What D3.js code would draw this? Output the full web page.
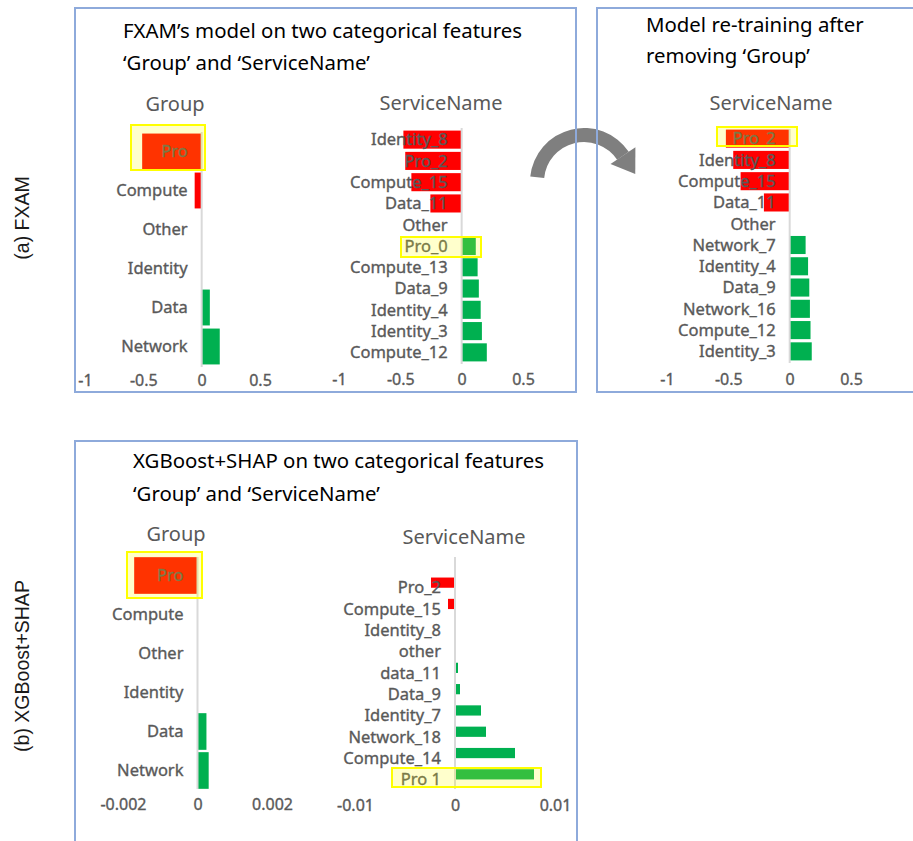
<!DOCTYPE html>
<html>
<head>
<meta charset="utf-8">
<script src="https://cdn.jsdelivr.net/npm/d3@7"></script>
<style>
  body { margin: 0; background: #fff; }
  svg { display: block; }
</style>
</head>
<body>
<svg id="fig" width="913" height="841"></svg>
<script>
// ---- data -------------------------------------------------------------
const groupCategories = ["Pro", "Compute", "Other", "Identity", "Data", "Network"];
const fxamGroupValues = [-0.51, -0.06, 0, 0, 0.07, 0.155];

const fxamServiceCategories = ["Identity_8", "Pro_2", "Compute_15", "Data_11", "Other", "Pro_0",
  "Compute_13", "Data_9", "Identity_4", "Identity_3", "Compute_12"];
const fxamServiceValues = [-0.475, -0.46, -0.41, -0.255, 0, 0.115, 0.13, 0.14, 0.155, 0.165, 0.205];

const retrainServiceCategories = ["Pro_2", "Identity_8", "Compute_15", "Data_11", "Other", "Network_7",
  "Identity_4", "Data_9", "Network_16", "Compute_12", "Identity_3"];
const retrainServiceValues = [-0.52, -0.46, -0.40, -0.21, 0, 0.13, 0.15, 0.16, 0.165, 0.17, 0.18];

const shapGroupValues = [-0.0017, 0, 0, 0, 0.00024, 0.0003];

const shapServiceCategories = ["Pro_2", "Compute_15", "Identity_8", "other", "data_11", "Data_9",
  "Identity_7", "Network_18", "Compute_14", "Pro 1"];
const shapServiceValues = [-0.0024, -0.0007, 0, 0, 0.0003, 0.0005, 0.0026, 0.0031, 0.006, 0.0079];

const fxamTicks = [-1, -0.5, 0, 0.5];
const shapGroupTicks = [-0.002, 0, 0.002];
const shapServiceTicks = [-0.01, 0, 0.01];

// ---- styling ----------------------------------------------------------
const NEG = "#ff0000", POS = "#00b050";
const LABEL = "#595959";
const FRAME = "#8eaadb";
const FONT = "'Noto Sans', 'DejaVu Sans', sans-serif";

const svg = d3.select("#fig");

// curved arrow between the two top panels (drawn first, frames sit above it)
(function drawArrow() {
  const cx = 584, cy = 182, r0 = 40, r1 = 54;
  const a0 = -1.47, a1 = 56 * Math.PI / 180;
  const g = svg.append("g").attr("transform", `translate(${cx},${cy})`);
  g.append("path")
    .attr("d", d3.arc()({ innerRadius: r0, outerRadius: r1, startAngle: a0, endAngle: a1 }))
    .attr("fill", "#7f7f7f");
  const rad = [Math.sin(a1), -Math.cos(a1)], tan = [Math.cos(a1), Math.sin(a1)];
  const pt = r => [rad[0] * r, rad[1] * r];
  const mid = (r0 + r1) / 2;
  const tip = [rad[0] * mid + tan[0] * 22, rad[1] * mid + tan[1] * 22];
  g.append("path")
    .attr("d", d3.line()([pt(r0 - 8), pt(r1 + 8), tip]) + "Z")
    .attr("fill", "#7f7f7f");
})();

// panel frames
const frames = [
  { x: 75, y: 8, w: 501, h: 384 },
  { x: 597, y: 8, w: 330, h: 384 },
  { x: 75, y: 441, w: 502, h: 420 }
];
svg.selectAll("rect.frame").data(frames).join("rect")
  .attr("class", "frame")
  .attr("x", d => d.x).attr("y", d => d.y)
  .attr("width", d => d.w).attr("height", d => d.h)
  .attr("fill", "none").attr("stroke", FRAME).attr("stroke-width", 2);

// panel titles
const titles = [
  { x: 123, y: 38, t: "FXAM’s model on two categorical features" },
  { x: 123, y: 70, t: "‘Group’ and ‘ServiceName’" },
  { x: 646, y: 32, t: "Model re-training after" },
  { x: 646, y: 63, t: "removing ‘Group’" },
  { x: 133, y: 468, t: "XGBoost+SHAP on two categorical features" },
  { x: 133, y: 501, t: "‘Group’ and ‘ServiceName’" }
];
svg.selectAll("text.ptitle").data(titles).join("text")
  .attr("class", "ptitle")
  .attr("x", d => d.x).attr("y", d => d.y)
  .attr("font-family", FONT).attr("font-size", 20.4).attr("fill", "#000")
  .text(d => d.t);

// row labels at the left edge
const sideLabels = [
  { x: 29, y: 218, t: "(a) FXAM" },
  { x: 29, y: 666, t: "(b) XGBoost+SHAP" }
];
svg.selectAll("text.side").data(sideLabels).join("text")
  .attr("class", "side")
  .attr("transform", d => `translate(${d.x},${d.y}) rotate(-90)`)
  .attr("text-anchor", "middle")
  .attr("font-family", "'Liberation Sans', Arial, sans-serif")
  .attr("font-size", 19.5).attr("fill", "#1a1a1a")
  .text(d => d.t);

// slightly heavier grey text, like a medium weight
function medium(sel) {
  return sel.attr("stroke", LABEL).attr("stroke-width", 0.35).attr("paint-order", "stroke");
}

// one diverging horizontal bar chart
function barChart(cfg) {
  const data = cfg.cats.map((c, i) => ({ cat: c, val: cfg.vals[i] }));
  const x = d3.scaleLinear().domain(cfg.xDomain).range(cfg.xRange);
  const y = d3.scaleBand().domain(cfg.cats).range(cfg.yRange)
    .paddingInner(cfg.pad).paddingOuter(cfg.pad / 2);
  const g = svg.append("g");

  g.append("text")
    .attr("x", cfg.titleX).attr("y", cfg.titleY)
    .attr("text-anchor", "middle").attr("dy", "0.35em")
    .attr("font-family", FONT).attr("font-size", 20).attr("fill", LABEL)
    .text(cfg.title);

  g.selectAll("rect.bar").data(data.filter(d => d.val !== 0)).join("rect")
    .attr("class", "bar")
    .attr("x", d => x(Math.min(0, d.val)))
    .attr("width", d => Math.abs(x(d.val) - x(0)))
    .attr("y", d => y(d.cat))
    .attr("height", y.bandwidth())
    .attr("fill", d => d.val < 0 ? NEG : POS);

  g.append("line")
    .attr("x1", x(0)).attr("x2", x(0))
    .attr("y1", cfg.zeroY[0]).attr("y2", cfg.zeroY[1])
    .attr("stroke", "#d9d9d9").attr("stroke-width", 2);

  g.selectAll("text.cat").data(data).join("text")
    .attr("class", "cat")
    .attr("x", x(0) - 14)
    .attr("y", d => y(d.cat) + y.bandwidth() / 2 + (cfg.labelDy || 0))
    .attr("dy", "0.35em").attr("text-anchor", "end")
    .attr("font-family", FONT).attr("font-size", 16.5).attr("fill", LABEL)
    .text(d => d.cat)
    .call(medium);

  const axis = g.append("g")
    .attr("transform", `translate(0,${cfg.axisY})`)
    .call(d3.axisBottom(x).tickValues(cfg.ticks).tickSize(0).tickPadding(0).tickFormat(d => String(d)));
  axis.select(".domain").remove();
  axis.selectAll("text")
    .attr("font-family", FONT).attr("font-size", 16).attr("fill", LABEL)
    .call(medium);

  if (cfg.hl) {
    g.append("rect")
      .attr("x", cfg.hl[0]).attr("y", cfg.hl[1])
      .attr("width", cfg.hl[2] - cfg.hl[0]).attr("height", cfg.hl[3] - cfg.hl[1])
      .attr("fill", "#ffff00").attr("fill-opacity", 0.2)
      .attr("stroke", "#ffff00").attr("stroke-width", 2);
  }
}

barChart({
  cats: groupCategories, vals: fxamGroupValues,
  xDomain: [-1, 0.5], xRange: [85, 260], ticks: fxamTicks,
  yRange: [132, 366], pad: 0.08, zeroY: [132, 367],
  title: "Group", titleX: 175, titleY: 104, axisY: 375,
  hl: [131, 125, 205, 170]
});

barChart({
  cats: fxamServiceCategories, vals: fxamServiceValues,
  xDomain: [-1, 0.5], xRange: [339, 523], ticks: fxamTicks,
  yRange: [129, 363], pad: 0.15, zeroY: [128, 364],
  title: "ServiceName", titleX: 441, titleY: 103, axisY: 374,
  hl: [401, 237, 481, 257]
});

barChart({
  cats: retrainServiceCategories, vals: retrainServiceValues,
  xDomain: [-1, 0.5], xRange: [667, 851], ticks: fxamTicks,
  yRange: [128, 362], pad: 0.15, zeroY: [129, 363],
  title: "ServiceName", titleX: 771, titleY: 103, axisY: 374,
  hl: [717, 127, 797, 146]
});

barChart({
  cats: groupCategories, vals: shapGroupValues,
  xDomain: [-0.002, 0.002], xRange: [123, 272], ticks: shapGroupTicks,
  yRange: [556, 790], pad: 0.06, zeroY: [557, 789],
  title: "Group", titleX: 176, titleY: 534, axisY: 799,
  hl: [127, 552, 202, 598]
});

barChart({
  cats: shapServiceCategories, vals: shapServiceValues,
  xDomain: [-0.01, 0.01], xRange: [355, 555], ticks: shapServiceTicks,
  yRange: [572, 785], pad: 0.52, zeroY: [557, 789], labelDy: 5,
  title: "ServiceName", titleX: 464, titleY: 537, axisY: 800,
  hl: [392, 768, 541, 787]
});
</script>
</body>
</html>
